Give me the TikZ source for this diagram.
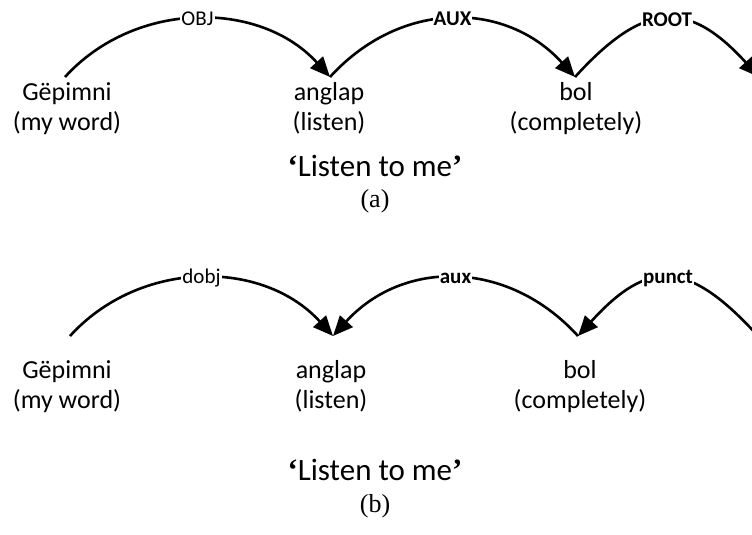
\documentclass[tikz,border=0pt]{standalone}
\usepackage{fontspec}
\setmainfont{Carlito}
\newfontfamily\timesfont{Liberation Serif}
\usetikzlibrary{arrows.meta}
\newcommand{\glq}{{\timesfont\bfseries ‘}}
\newcommand{\grq}{{\timesfont\bfseries ’}}
\begin{document}
\begin{tikzpicture}[x=1pt,y=-1pt,
  word/.style={font=\fontsize{26}{28}\selectfont, anchor=base, inner sep=0pt},
  lab/.style={font=\fontsize{21}{21}\selectfont, fill=white, inner sep=1pt},
  blab/.style={font=\fontsize{21}{21}\selectfont\bfseries, fill=white, inner sep=1pt},
  deparc/.style={line width=2.6pt},
  tipped/.style={-{Triangle[length=20pt,width=17pt]}},
  gloss/.style={font=\fontsize{31}{31}\selectfont, anchor=base, inner sep=0pt},
  sublabel/.style={font=\timesfont\fontsize{26}{26}\selectfont, anchor=base, inner sep=0pt}]
\useasboundingbox (0,0) rectangle (752,535);
\clip (0,0) rectangle (752,535);
% ---------- (a) ----------
\node[word] (g1) at (67,100) {Gëpimni};
\node[word] (g1b) at (67,130) {(my word)};
\node[word] (a1) at (329,100) {anglap};
\node[word] (a1b) at (329,130) {(listen)};
\node[word] (b1) at (576,100) {bol};
\node[word] (b1b) at (576,130) {(completely)};
\coordinate (g1t) at (65,77);
\coordinate (a1t) at (330,77);
\coordinate (b1t) at (575,77);
\coordinate (r1t) at (759,77);
\draw[deparc,tipped] (g1t) .. controls +(70,-77) and +(-70,-77) .. (a1t) node[midway,lab] (l1) {OBJ};
\draw[deparc,tipped] (a1t) .. controls +(70,-77) and +(-70,-77) .. (b1t) node[midway,blab] (l2) {AUX};
\draw[deparc,tipped] (b1t) .. controls +(70,-77) and +(-70,-77) .. (r1t) node[midway,blab] (l3) {ROOT};
\node[gloss] (s1) at (375,176) {\glq Listen to me\grq};
\node[sublabel] (c1) at (375,207) {(a)};
% ---------- (b) ----------
\node[word] (g2) at (67,378) {Gëpimni};
\node[word] (g2b) at (67,408) {(my word)};
\node[word] (a2) at (331,378) {anglap};
\node[word] (a2b) at (331,408) {(listen)};
\node[word] (b2) at (580,378) {bol};
\node[word] (b2b) at (580,408) {(completely)};
\coordinate (g2t) at (70,336);
\coordinate (a2t) at (333,336);
\coordinate (b2t) at (578,336);
\coordinate (r2t) at (758,336);
\draw[deparc,tipped] (g2t) .. controls +(70,-77) and +(-70,-77) .. (a2t) node[midway,lab] (l4) {dobj};
\draw[deparc,tipped] (b2t) .. controls +(-70,-77) and +(70,-77) .. (a2t) node[midway,blab] (l5) {aux};
\draw[deparc,tipped] (r2t) .. controls +(-70,-77) and +(70,-77) .. (b2t) node[midway,blab] (l6) {punct};
\node[gloss] (s2) at (375,480) {\glq Listen to me\grq};
\node[sublabel] (c2) at (375,512) {(b)};
\end{tikzpicture}
\end{document}
